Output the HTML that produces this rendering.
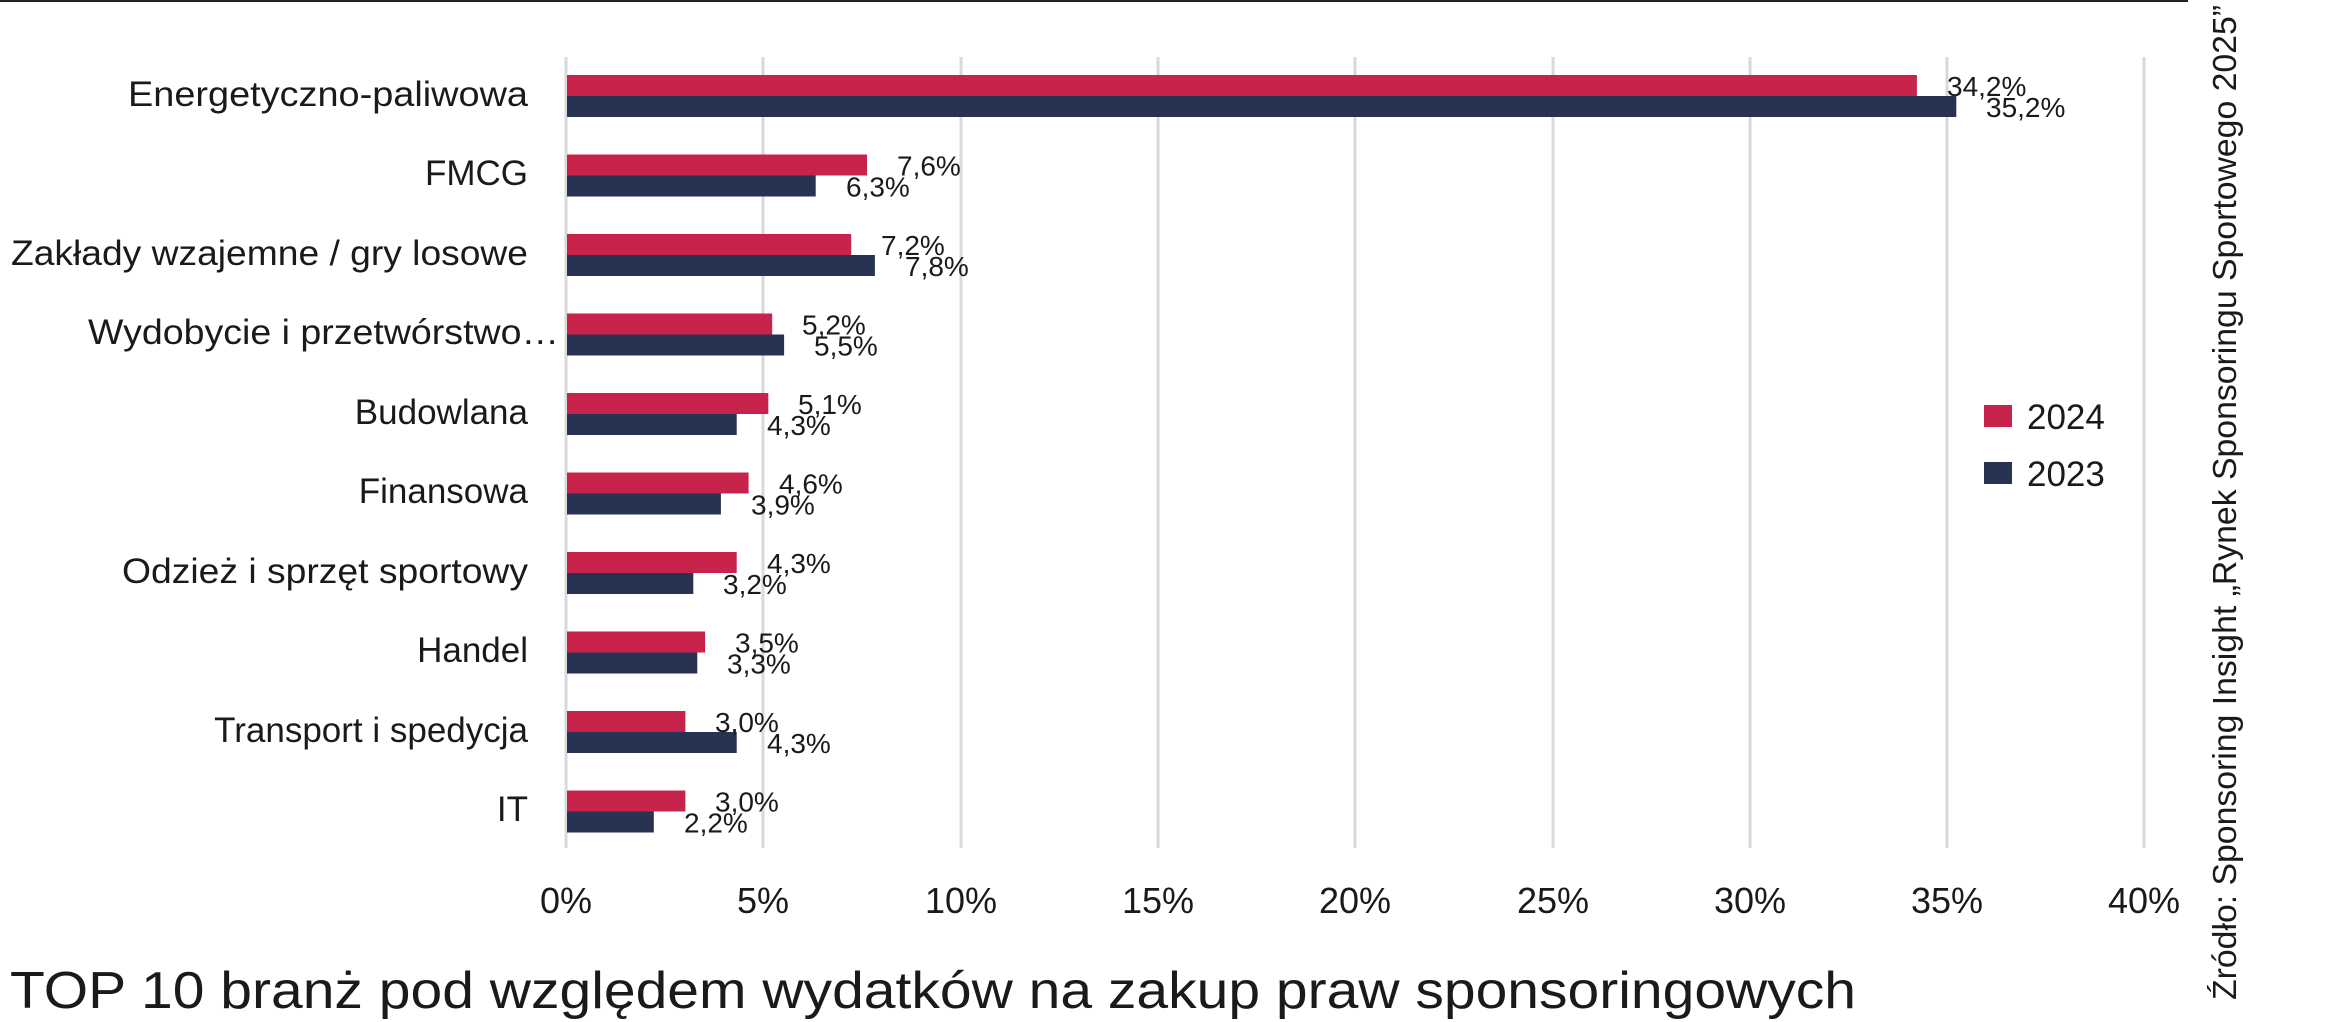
<!DOCTYPE html>
<html><head><meta charset="utf-8"><style>
html,body{margin:0;padding:0;background:#fff;}
svg{display:block;}
text{font-family:"Liberation Sans",sans-serif;fill:#1a1a1a;}
</style></head><body>
<svg width="2345" height="1022" viewBox="0 0 2345 1022" xmlns="http://www.w3.org/2000/svg">
<rect x="0" y="0" width="2188" height="2" fill="#222"/>
<g stroke="#d9d9d9" stroke-width="3">
<line x1="566" y1="57" x2="566" y2="848"/>
<line x1="763" y1="57" x2="763" y2="848"/>
<line x1="961" y1="57" x2="961" y2="848"/>
<line x1="1158" y1="57" x2="1158" y2="848"/>
<line x1="1355" y1="57" x2="1355" y2="848"/>
<line x1="1553" y1="57" x2="1553" y2="848"/>
<line x1="1750" y1="57" x2="1750" y2="848"/>
<line x1="1947" y1="57" x2="1947" y2="848"/>
<line x1="2144" y1="57" x2="2144" y2="848"/>
</g>
<g font-size="36" text-anchor="middle">
<text x="566" y="913">0%</text><text x="763" y="913">5%</text><text x="961" y="913">10%</text><text x="1158" y="913">15%</text><text x="1355" y="913">20%</text><text x="1553" y="913">25%</text><text x="1750" y="913">30%</text><text x="1947" y="913">35%</text><text x="2144" y="913">40%</text>
</g>
<g fill="#C8234A">
<rect x="567" y="75" width="1349.9" height="21"/>
<rect x="567" y="154.5" width="300" height="21"/>
<rect x="567" y="234" width="284.2" height="21"/>
<rect x="567" y="313.5" width="205.2" height="21"/>
<rect x="567" y="393" width="201.3" height="21"/>
<rect x="567" y="472.5" width="181.6" height="21"/>
<rect x="567" y="552" width="169.7" height="21"/>
<rect x="567" y="631.5" width="138.1" height="21"/>
<rect x="567" y="711" width="118.4" height="21"/>
<rect x="567" y="790.5" width="118.4" height="21"/>
</g>
<g fill="#283253">
<rect x="567" y="96" width="1389.3" height="21"/>
<rect x="567" y="175.5" width="248.7" height="21"/>
<rect x="567" y="255" width="307.9" height="21"/>
<rect x="567" y="334.5" width="217.1" height="21"/>
<rect x="567" y="414" width="169.7" height="21"/>
<rect x="567" y="493.5" width="153.9" height="21"/>
<rect x="567" y="573" width="126.3" height="21"/>
<rect x="567" y="652.5" width="130.3" height="21"/>
<rect x="567" y="732" width="169.7" height="21"/>
<rect x="567" y="811.5" width="86.8" height="21"/>
</g>
<g font-size="28">
<text x="1947" y="96">34,2%</text><text x="1986" y="117">35,2%</text>
<text x="897" y="175.5">7,6%</text><text x="846" y="196.5">6,3%</text>
<text x="881" y="255">7,2%</text><text x="905" y="276">7,8%</text>
<text x="802" y="334.5">5,2%</text><text x="814" y="355.5">5,5%</text>
<text x="798" y="414">5,1%</text><text x="767" y="435">4,3%</text>
<text x="779" y="493.5">4,6%</text><text x="751" y="514.5">3,9%</text>
<text x="767" y="573">4,3%</text><text x="723" y="594">3,2%</text>
<text x="735" y="652.5">3,5%</text><text x="727" y="673.5">3,3%</text>
<text x="715" y="732">3,0%</text><text x="767" y="753">4,3%</text>
<text x="715" y="811.5">3,0%</text><text x="684" y="832.5">2,2%</text>
</g>
<g font-size="35" text-anchor="end">
<text x="528" y="106" textLength="400" lengthAdjust="spacingAndGlyphs">Energetyczno-paliwowa</text>
<text x="528" y="185">FMCG</text>
<text x="528" y="265" textLength="517" lengthAdjust="spacingAndGlyphs">Zakłady wzajemne / gry losowe</text>
<text x="559" y="344" textLength="471" lengthAdjust="spacingAndGlyphs">Wydobycie i przetwórstwo…</text>
<text x="528" y="424">Budowlana</text>
<text x="528" y="503">Finansowa</text>
<text x="528" y="583" textLength="406" lengthAdjust="spacingAndGlyphs">Odzież i sprzęt sportowy</text>
<text x="528" y="662">Handel</text>
<text x="528" y="742">Transport i spedycja</text>
<text x="528" y="821">IT</text>
</g>
<rect x="1984" y="405" width="28" height="22" fill="#C8234A"/>
<text x="2027" y="429" font-size="35">2024</text>
<rect x="1984" y="462" width="28" height="22" fill="#283253"/>
<text x="2027" y="486" font-size="35">2023</text>
<text transform="translate(2236,1000) rotate(-90)" font-size="33" textLength="995" lengthAdjust="spacingAndGlyphs">Źródło: Sponsoring Insight „Rynek Sponsoringu Sportowego 2025”</text>
<text x="10" y="1008" font-size="52" textLength="1846" lengthAdjust="spacingAndGlyphs">TOP 10 branż pod względem wydatków na zakup praw sponsoringowych</text>
</svg>
</body></html>
